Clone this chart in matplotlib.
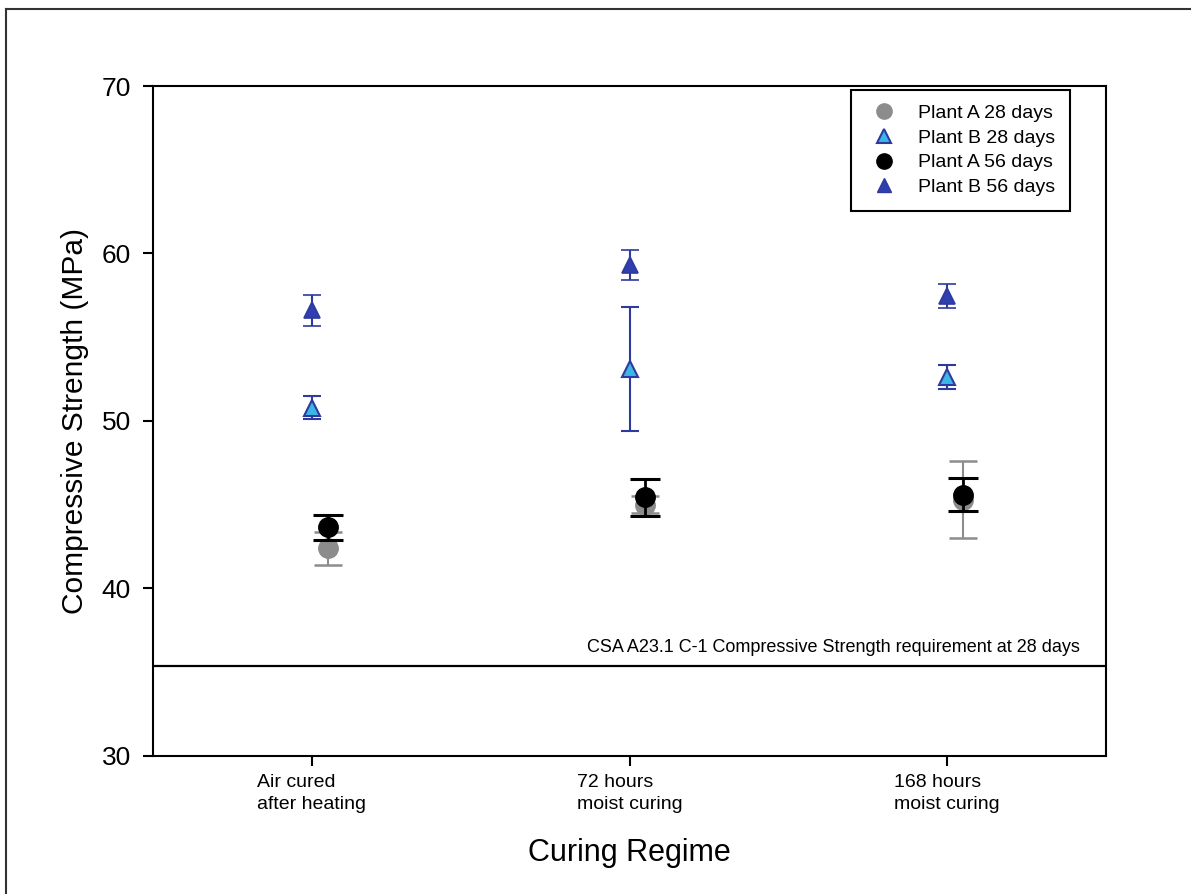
import numpy as np
import matplotlib
matplotlib.use("Agg")
from matplotlib import pyplot as plt
from matplotlib.lines import Line2D

plt.rcParams['font.family'] = ['Liberation Sans', 'DejaVu Sans']

regimes = ["Air cured\nafter heating", "72 hours\nmoist curing", "168 hours\nmoist curing"]

# mean compressive strength (MPa) and error bar half-widths
a28 = [42.4, 45.0, 45.3]
a28_err = [1.0, 0.5, 2.3]
b28 = [50.8, 53.1, 52.6]
b28_err = [0.7, 3.7, 0.72]
a56 = [43.65, 45.45, 45.6]
a56_err = [0.73, 1.1, 1.0]
b56 = [56.6, 59.3, 57.45]
b56_err = [0.95, 0.9, 0.7]

requirement = 35.4

x = np.arange(1, len(regimes) + 1)
xa = x + 0.05  # plant A points sit slightly right of the tick

fig = plt.figure(figsize=(11.91, 8.94), dpi=100)
ax = fig.add_axes([0.1285, 0.1544, 0.8001, 0.7494])

blue_dark = '#2e3a9e'
blue_fill = '#2f3fae'
blue_light = '#3cb6e6'
grey = '#8c8c8c'

ax.errorbar(xa, a28, yerr=a28_err, fmt='o', color=grey, ms=14, mec=grey,
            ecolor=grey, elinewidth=1.5, capsize=10, capthick=1.8, zorder=2)
ax.errorbar(x, b28, yerr=b28_err, fmt='^', ms=12, mfc=blue_light, mec=blue_dark,
            mew=1.5, ecolor=blue_dark, elinewidth=1.5, capsize=6.5, capthick=1.8, zorder=3)
ax.errorbar(xa, a56, yerr=a56_err, fmt='o', color='black', ms=14,
            ecolor='black', elinewidth=2, capsize=11, capthick=2.2, zorder=4)
ax.errorbar(x, b56, yerr=b56_err, fmt='^', ms=12, mfc=blue_fill, mec=blue_dark,
            mew=1.2, ecolor=blue_dark, elinewidth=1.5, capsize=6.5, capthick=1.8, zorder=5)

ax.axhline(requirement, color='black', lw=1.6, zorder=1)
ax.text(3.418, 36.2, "CSA A23.1 C-1 Compressive Strength requirement at 28 days",
        ha='right', va='baseline', fontsize=13)

ax.set_xlim(0.5, 3.5)
ax.set_ylim(30, 70)
ax.set_yticks([30, 40, 50, 60, 70])
ax.set_xticks(x)
ax.set_xticklabels(regimes, multialignment='left', linespacing=1.35)
ax.tick_params(axis='y', labelsize=19, length=7, width=1.5, pad=9, direction='out')
ax.tick_params(axis='x', labelsize=14, length=7, width=1.5, pad=6, direction='out')
for s in ax.spines.values():
    s.set_linewidth(1.5)

ax.set_ylabel("Compressive Strength (MPa)", fontsize=21.5, labelpad=9)
ax.set_xlabel("Curing Regime", fontsize=22, labelpad=18)

handles = [
    Line2D([], [], ls='none', marker='o', ms=11, color=grey),
    Line2D([], [], ls='none', marker='^', ms=9.5, mfc=blue_light, mec=blue_dark, mew=1.5),
    Line2D([], [], ls='none', marker='o', ms=11, color='black'),
    Line2D([], [], ls='none', marker='^', ms=9.5, mfc=blue_fill, mec=blue_dark),
]
labels = ["Plant A 28 days", "Plant B 28 days", "Plant A 56 days", "Plant B 56 days"]
leg = ax.legend(handles, labels, loc='upper right', bbox_to_anchor=(0.962, 0.994),
                borderaxespad=0, fontsize=14, labelspacing=0.36, handletextpad=0.8,
                handlelength=1.9, borderpad=0.75, fancybox=False, framealpha=1,
                edgecolor='black')
leg.get_frame().set_linewidth(1.5)

# thin border around the figure, top and left edges
fig.add_artist(Line2D([6 / 1191, 6 / 1191], [0, 1 - 9 / 894], transform=fig.transFigure,
                      color='#333333', lw=1.5))
fig.add_artist(Line2D([6 / 1191, 1], [1 - 9 / 894, 1 - 9 / 894], transform=fig.transFigure,
                      color='#333333', lw=1.5))

fig.savefig("out.png", dpi=100)
